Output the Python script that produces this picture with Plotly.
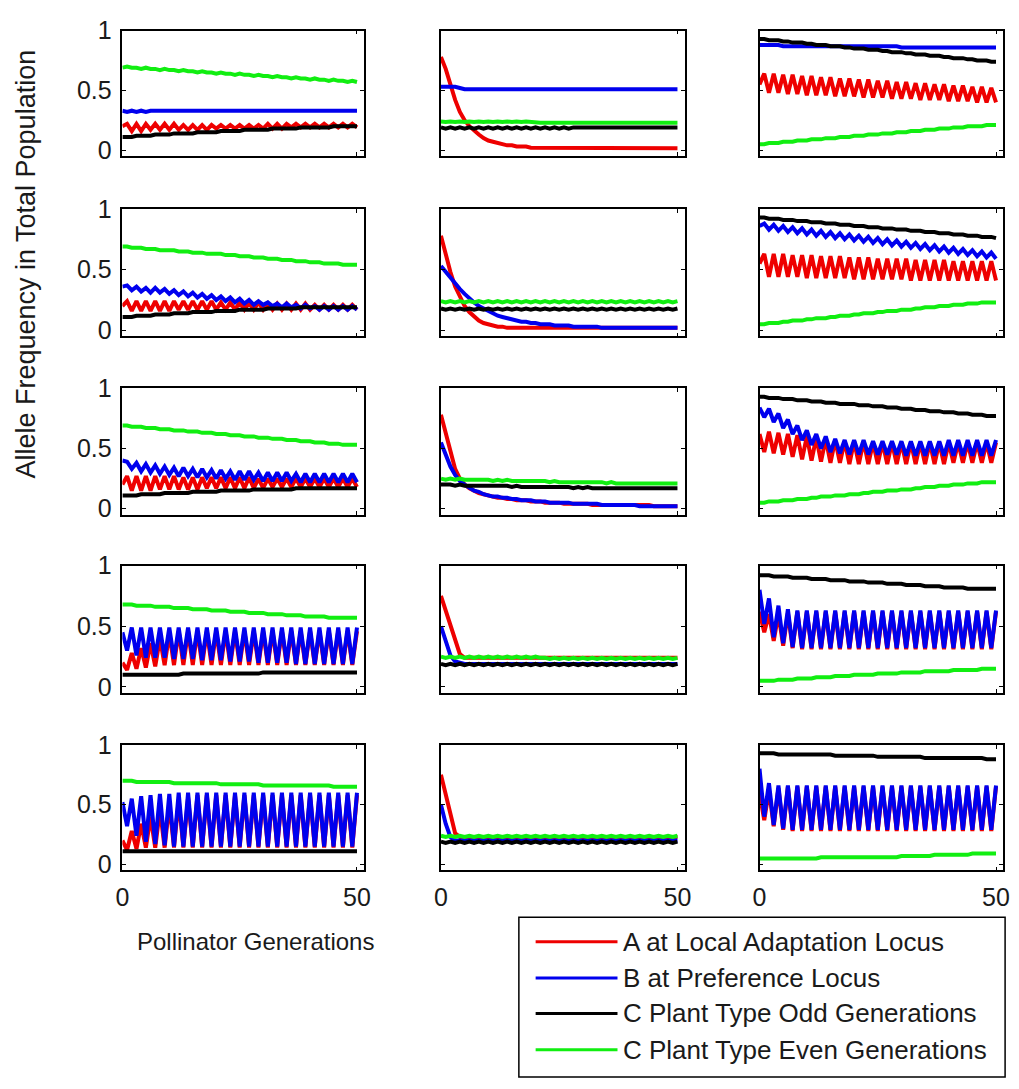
import plotly.graph_objects as go

# ---------------- data (allele frequencies per pollinator generation 0..50) ----------------
series_names = ["A at Local Adaptation Locus", "B at Preference Locus",
                "C Plant Type Odd Generations", "C Plant Type Even Generations"]
x_tick_vals = [0, 50]
x_tick_text = ["0", "50"]
y_tick_vals = [0, 0.5, 1]
y_tick_text = ["0", "0.5", "1"]

# ---- row 1 ----
r11 = [0.20,0.22,0.16,0.22,0.16,0.22,0.17,0.22,0.17,0.22,
       0.17,0.22,0.17,0.21,0.17,0.21,0.17,0.21,0.17,0.21,
       0.18,0.21,0.18,0.21,0.18,0.21,0.18,0.21,0.18,0.21,
       0.18,0.22,0.18,0.22,0.18,0.22,0.19,0.22,0.19,0.22,
       0.19,0.22,0.19,0.22,0.19,0.22,0.19,0.22,0.19,0.22,
       0.19]
b11 = [0.33,0.32,0.33,0.32,0.33,0.32,0.33,0.33,0.33,0.33,
       0.33,0.33,0.33,0.33,0.33,0.33,0.33,0.33,0.33,0.33,
       0.33,0.33,0.33,0.33,0.33,0.33,0.33,0.33,0.33,0.33,
       0.33,0.33,0.33,0.33,0.33,0.33,0.33,0.33,0.33,0.33,
       0.33,0.33,0.33,0.33,0.33,0.33,0.33,0.33,0.33,0.33,
       0.33]
k11 = [0.11,0.11,0.11,0.12,0.12,0.12,0.12,0.13,0.13,0.13,
       0.13,0.14,0.14,0.14,0.14,0.14,0.15,0.15,0.15,0.15,
       0.15,0.16,0.16,0.16,0.16,0.16,0.17,0.17,0.17,0.17,
       0.17,0.17,0.18,0.18,0.18,0.18,0.18,0.18,0.19,0.19,
       0.19,0.19,0.19,0.19,0.19,0.20,0.20,0.20,0.20,0.20,
       0.20]
g11 = [0.69,0.70,0.69,0.69,0.68,0.69,0.68,0.68,0.67,0.68,
       0.67,0.67,0.66,0.67,0.66,0.66,0.65,0.66,0.65,0.65,
       0.64,0.65,0.64,0.64,0.63,0.64,0.63,0.63,0.62,0.63,
       0.62,0.62,0.61,0.62,0.61,0.61,0.60,0.61,0.60,0.60,
       0.59,0.60,0.59,0.59,0.58,0.59,0.58,0.58,0.57,0.58,
       0.57]

r12 = [0.78,0.68,0.55,0.42,0.32,0.25,0.20,0.16,0.13,0.10,
       0.08,0.07,0.06,0.05,0.04,0.04,0.03,0.03,0.03,0.02,
       0.02,0.02,0.02,0.02,0.02,0.02,0.02,0.015,0.015,0.015,
       0.015,0.015,0.015,0.015,0.015,0.015,0.015,0.015,0.015,0.015,
       0.015,0.015,0.015,0.015,0.015,0.015,0.015,0.015,0.015,0.015,
       0.015]
b12 = [0.53,0.53,0.53,0.53,0.52,0.51,0.51,0.51,0.51,0.51,
       0.51,0.51,0.51,0.51,0.51,0.51,0.51,0.51,0.51,0.51,
       0.51,0.51,0.51,0.51,0.51,0.51,0.51,0.51,0.51,0.51,
       0.51,0.51,0.51,0.51,0.51,0.51,0.51,0.51,0.51,0.51,
       0.51,0.51,0.51,0.51,0.51,0.51,0.51,0.51,0.51,0.51,
       0.51]
k12 = [0.19,0.18,0.19,0.18,0.19,0.18,0.19,0.18,0.19,0.18,
       0.19,0.18,0.19,0.18,0.19,0.18,0.19,0.18,0.19,0.18,
       0.19,0.18,0.19,0.18,0.19,0.18,0.19,0.18,0.19,0.19,
       0.19,0.19,0.19,0.19,0.19,0.19,0.19,0.19,0.19,0.19,
       0.19,0.19,0.19,0.19,0.19,0.19,0.19,0.19,0.19,0.19,
       0.19]
g12 = [0.24,0.235,0.24,0.235,0.24,0.235,0.24,0.235,0.24,0.235,
       0.24,0.235,0.24,0.235,0.24,0.235,0.24,0.235,0.24,0.235,
       0.23,0.23,0.23,0.23,0.23,0.23,0.23,0.23,0.23,0.23,
       0.23,0.23,0.23,0.23,0.23,0.23,0.23,0.23,0.23,0.23,
       0.23,0.23,0.23,0.23,0.23,0.23,0.23,0.23,0.23,0.23,
       0.23]

r13 = [0.55,0.64,0.48,0.64,0.48,0.63,0.47,0.63,0.47,0.62,
       0.46,0.62,0.46,0.61,0.46,0.61,0.45,0.60,0.45,0.60,
       0.45,0.59,0.44,0.59,0.44,0.58,0.44,0.58,0.43,0.57,
       0.43,0.57,0.43,0.56,0.42,0.56,0.42,0.55,0.42,0.55,
       0.41,0.54,0.41,0.54,0.41,0.53,0.40,0.53,0.40,0.52,
       0.40]
b13 = [0.88,0.88,0.88,0.88,0.88,0.87,0.87,0.87,0.87,0.87,
       0.87,0.87,0.87,0.87,0.87,0.87,0.87,0.87,0.87,0.87,
       0.87,0.87,0.87,0.87,0.87,0.87,0.87,0.87,0.87,0.87,
       0.86,0.86,0.86,0.86,0.86,0.86,0.86,0.86,0.86,0.86,
       0.86,0.86,0.86,0.86,0.86,0.86,0.86,0.86,0.86,0.86,
       0.86]
k13 = [0.93,0.93,0.92,0.92,0.92,0.91,0.91,0.90,0.90,0.90,
       0.89,0.89,0.88,0.88,0.88,0.87,0.87,0.87,0.86,0.86,
       0.85,0.85,0.85,0.84,0.84,0.84,0.83,0.83,0.82,0.82,
       0.82,0.81,0.81,0.80,0.80,0.80,0.79,0.79,0.79,0.78,
       0.78,0.77,0.77,0.77,0.76,0.76,0.75,0.75,0.75,0.74,
       0.74]
g13 = [0.05,0.05,0.06,0.06,0.06,0.07,0.07,0.07,0.08,0.08,
       0.08,0.09,0.09,0.09,0.10,0.10,0.10,0.11,0.11,0.11,
       0.12,0.12,0.12,0.13,0.13,0.13,0.14,0.14,0.14,0.15,
       0.15,0.15,0.16,0.16,0.16,0.17,0.17,0.17,0.18,0.18,
       0.18,0.19,0.19,0.19,0.20,0.20,0.20,0.20,0.21,0.21,
       0.21]

# ---- row 2 ----
r21 = [0.20,0.24,0.16,0.24,0.16,0.24,0.16,0.24,0.16,0.24,
       0.16,0.24,0.17,0.24,0.17,0.24,0.17,0.24,0.17,0.24,
       0.17,0.23,0.17,0.23,0.17,0.23,0.17,0.23,0.17,0.23,
       0.17,0.22,0.17,0.22,0.17,0.22,0.17,0.22,0.17,0.22,
       0.17,0.21,0.17,0.21,0.17,0.21,0.17,0.21,0.17,0.21,
       0.17]
b21 = [0.36,0.37,0.33,0.36,0.32,0.35,0.31,0.35,0.31,0.34,
       0.30,0.33,0.29,0.32,0.28,0.31,0.27,0.30,0.26,0.29,
       0.25,0.28,0.24,0.27,0.23,0.26,0.22,0.25,0.21,0.24,
       0.21,0.23,0.20,0.22,0.19,0.22,0.19,0.21,0.18,0.21,
       0.18,0.20,0.17,0.20,0.17,0.20,0.17,0.20,0.17,0.20,
       0.17]
k21 = [0.11,0.11,0.11,0.12,0.12,0.12,0.12,0.13,0.13,0.13,
       0.13,0.14,0.14,0.14,0.14,0.15,0.15,0.15,0.15,0.15,
       0.16,0.16,0.16,0.16,0.16,0.17,0.17,0.17,0.17,0.17,
       0.17,0.18,0.18,0.18,0.18,0.18,0.18,0.18,0.19,0.19,
       0.19,0.19,0.19,0.19,0.19,0.19,0.19,0.19,0.19,0.19,
       0.19]
g21 = [0.69,0.69,0.68,0.68,0.68,0.67,0.67,0.67,0.66,0.66,
       0.66,0.66,0.65,0.65,0.65,0.64,0.64,0.64,0.63,0.63,
       0.63,0.63,0.62,0.62,0.62,0.61,0.61,0.61,0.60,0.60,
       0.60,0.59,0.59,0.59,0.58,0.58,0.58,0.57,0.57,0.57,
       0.56,0.56,0.56,0.55,0.55,0.55,0.55,0.54,0.54,0.54,
       0.54]

r22 = [0.78,0.62,0.48,0.36,0.27,0.20,0.15,0.11,0.08,0.06,
       0.05,0.04,0.03,0.03,0.02,0.02,0.02,0.02,0.02,0.02,
       0.02,0.02,0.02,0.02,0.02,0.02,0.02,0.02,0.02,0.02,
       0.02,0.02,0.02,0.02,0.02,0.02,0.02,0.02,0.02,0.02,
       0.02,0.02,0.02,0.02,0.02,0.02,0.02,0.02,0.02,0.02,
       0.02]
b22 = [0.53,0.48,0.43,0.38,0.34,0.30,0.26,0.23,0.20,0.18,
       0.16,0.14,0.12,0.11,0.10,0.09,0.08,0.07,0.07,0.06,
       0.06,0.05,0.05,0.05,0.04,0.04,0.04,0.04,0.03,0.03,
       0.03,0.03,0.03,0.03,0.02,0.02,0.02,0.02,0.02,0.02,
       0.02,0.02,0.02,0.02,0.02,0.02,0.02,0.02,0.02,0.02,
       0.02]
k22 = [0.18,0.17,0.18,0.17,0.18,0.17,0.18,0.17,0.18,0.17,
       0.18,0.17,0.18,0.17,0.18,0.17,0.18,0.17,0.18,0.17,
       0.18,0.17,0.18,0.17,0.18,0.17,0.18,0.17,0.18,0.17,
       0.18,0.17,0.18,0.17,0.18,0.17,0.18,0.17,0.18,0.17,
       0.18,0.17,0.18,0.17,0.18,0.17,0.18,0.17,0.18,0.17,
       0.18]
g22 = [0.24,0.23,0.24,0.23,0.24,0.23,0.24,0.23,0.24,0.23,
       0.24,0.23,0.24,0.23,0.24,0.23,0.24,0.23,0.24,0.23,
       0.24,0.23,0.24,0.23,0.24,0.23,0.24,0.23,0.24,0.23,
       0.24,0.23,0.24,0.23,0.24,0.23,0.24,0.23,0.24,0.23,
       0.24,0.23,0.24,0.23,0.24,0.23,0.24,0.23,0.24,0.23,
       0.24]

r23 = [0.55,0.63,0.44,0.63,0.44,0.63,0.44,0.62,0.44,0.62,
       0.43,0.62,0.43,0.61,0.43,0.61,0.43,0.61,0.43,0.60,
       0.42,0.60,0.42,0.60,0.42,0.59,0.42,0.59,0.42,0.59,
       0.42,0.59,0.41,0.58,0.41,0.58,0.41,0.58,0.41,0.58,
       0.41,0.57,0.41,0.57,0.41,0.57,0.41,0.57,0.41,0.57,
       0.41]
b23 = [0.86,0.88,0.83,0.87,0.82,0.86,0.81,0.85,0.80,0.84,
       0.79,0.83,0.78,0.82,0.77,0.81,0.76,0.80,0.75,0.79,
       0.74,0.78,0.73,0.77,0.72,0.76,0.71,0.75,0.70,0.74,
       0.69,0.73,0.68,0.72,0.67,0.71,0.66,0.70,0.65,0.69,
       0.64,0.68,0.63,0.67,0.62,0.66,0.61,0.65,0.60,0.64,
       0.59]
k23 = [0.93,0.93,0.92,0.92,0.92,0.91,0.91,0.91,0.90,0.90,
       0.90,0.89,0.89,0.89,0.88,0.88,0.88,0.87,0.87,0.87,
       0.86,0.86,0.86,0.85,0.85,0.85,0.84,0.84,0.84,0.83,
       0.83,0.83,0.82,0.82,0.82,0.81,0.81,0.81,0.80,0.80,
       0.80,0.79,0.79,0.79,0.78,0.78,0.78,0.77,0.77,0.77,
       0.76]
g23 = [0.05,0.05,0.06,0.06,0.06,0.07,0.07,0.08,0.08,0.08,
       0.09,0.09,0.10,0.10,0.10,0.11,0.11,0.12,0.12,0.12,
       0.13,0.13,0.14,0.14,0.14,0.15,0.15,0.16,0.16,0.16,
       0.17,0.17,0.17,0.18,0.18,0.19,0.19,0.19,0.20,0.20,
       0.20,0.21,0.21,0.21,0.22,0.22,0.22,0.23,0.23,0.23,
       0.23]

# ---- row 3 ----
r31 = [0.20,0.27,0.15,0.27,0.15,0.27,0.15,0.27,0.16,0.27,
       0.16,0.27,0.16,0.26,0.16,0.26,0.16,0.26,0.17,0.26,
       0.17,0.26,0.17,0.26,0.17,0.26,0.17,0.26,0.17,0.25,
       0.17,0.25,0.18,0.25,0.18,0.25,0.18,0.25,0.18,0.25,
       0.18,0.25,0.18,0.25,0.18,0.25,0.18,0.25,0.18,0.25,
       0.18]
b31 = [0.40,0.39,0.33,0.38,0.31,0.37,0.30,0.36,0.29,0.35,
       0.28,0.34,0.27,0.34,0.27,0.33,0.26,0.33,0.26,0.32,
       0.25,0.32,0.25,0.31,0.24,0.31,0.24,0.31,0.24,0.30,
       0.23,0.30,0.23,0.30,0.23,0.30,0.23,0.29,0.22,0.29,
       0.22,0.29,0.22,0.29,0.22,0.29,0.22,0.29,0.22,0.29,
       0.22]
k31 = [0.11,0.11,0.11,0.11,0.12,0.12,0.12,0.12,0.12,0.13,
       0.13,0.13,0.13,0.13,0.13,0.14,0.14,0.14,0.14,0.14,
       0.14,0.15,0.15,0.15,0.15,0.15,0.15,0.15,0.16,0.16,
       0.16,0.16,0.16,0.16,0.16,0.16,0.16,0.17,0.17,0.17,
       0.17,0.17,0.17,0.17,0.17,0.17,0.17,0.17,0.17,0.17,
       0.17]
g31 = [0.69,0.69,0.68,0.68,0.68,0.67,0.67,0.67,0.66,0.66,
       0.66,0.65,0.65,0.65,0.64,0.64,0.64,0.63,0.63,0.63,
       0.62,0.62,0.62,0.61,0.61,0.61,0.60,0.60,0.60,0.59,
       0.59,0.59,0.58,0.58,0.58,0.57,0.57,0.57,0.56,0.56,
       0.56,0.55,0.55,0.55,0.54,0.54,0.54,0.53,0.53,0.53,
       0.53]

r32 = [0.78,0.62,0.46,0.33,0.25,0.20,0.17,0.15,0.13,0.12,
       0.11,0.10,0.09,0.09,0.08,0.08,0.07,0.07,0.07,0.06,
       0.06,0.06,0.05,0.05,0.05,0.05,0.04,0.04,0.04,0.04,
       0.04,0.04,0.03,0.03,0.03,0.03,0.03,0.03,0.03,0.03,
       0.03,0.03,0.03,0.03,0.03,0.02,0.02,0.02,0.02,0.02,
       0.02]
b32 = [0.55,0.44,0.35,0.28,0.23,0.20,0.17,0.15,0.14,0.12,
       0.11,0.10,0.10,0.09,0.09,0.08,0.08,0.07,0.07,0.07,
       0.06,0.06,0.06,0.05,0.05,0.05,0.05,0.05,0.04,0.04,
       0.04,0.04,0.04,0.04,0.03,0.03,0.03,0.03,0.03,0.03,
       0.03,0.03,0.02,0.02,0.02,0.02,0.02,0.02,0.02,0.02,
       0.02]
k32 = [0.20,0.20,0.20,0.19,0.20,0.19,0.19,0.19,0.19,0.19,
       0.19,0.19,0.19,0.19,0.19,0.18,0.19,0.18,0.18,0.18,
       0.18,0.18,0.18,0.18,0.18,0.18,0.18,0.18,0.17,0.18,
       0.17,0.18,0.17,0.17,0.17,0.17,0.17,0.17,0.17,0.17,
       0.17,0.17,0.17,0.17,0.17,0.17,0.17,0.17,0.17,0.17,
       0.17]
g32 = [0.25,0.24,0.25,0.24,0.25,0.24,0.24,0.24,0.24,0.24,
       0.24,0.23,0.24,0.23,0.24,0.23,0.23,0.23,0.23,0.23,
       0.23,0.23,0.23,0.22,0.23,0.22,0.22,0.22,0.22,0.22,
       0.22,0.22,0.22,0.22,0.22,0.21,0.22,0.21,0.21,0.21,
       0.21,0.21,0.21,0.21,0.21,0.21,0.21,0.21,0.21,0.21,
       0.21]

r33 = [0.62,0.47,0.64,0.46,0.63,0.45,0.62,0.43,0.61,0.41,
       0.60,0.40,0.59,0.39,0.58,0.38,0.57,0.38,0.56,0.37,
       0.56,0.37,0.56,0.37,0.55,0.37,0.55,0.37,0.55,0.37,
       0.55,0.37,0.55,0.37,0.55,0.37,0.55,0.37,0.55,0.37,
       0.55,0.38,0.55,0.38,0.55,0.38,0.55,0.38,0.55,0.38,
       0.55]
b33 = [0.84,0.76,0.83,0.72,0.79,0.67,0.74,0.62,0.69,0.57,
       0.65,0.53,0.62,0.50,0.60,0.47,0.58,0.46,0.57,0.45,
       0.57,0.45,0.57,0.45,0.56,0.45,0.56,0.45,0.56,0.45,
       0.56,0.44,0.56,0.44,0.56,0.44,0.56,0.44,0.56,0.44,
       0.57,0.44,0.57,0.44,0.57,0.44,0.57,0.44,0.57,0.44,
       0.57]
k33 = [0.93,0.93,0.92,0.92,0.92,0.91,0.91,0.91,0.90,0.90,
       0.90,0.89,0.89,0.89,0.88,0.88,0.88,0.87,0.87,0.87,
       0.87,0.86,0.86,0.86,0.85,0.85,0.85,0.84,0.84,0.84,
       0.83,0.83,0.83,0.82,0.82,0.82,0.81,0.81,0.81,0.80,
       0.80,0.80,0.79,0.79,0.79,0.78,0.78,0.78,0.77,0.77,
       0.77]
g33 = [0.05,0.05,0.06,0.06,0.06,0.07,0.07,0.07,0.08,0.08,
       0.08,0.09,0.09,0.10,0.10,0.10,0.11,0.11,0.11,0.12,
       0.12,0.12,0.13,0.13,0.14,0.14,0.14,0.15,0.15,0.15,
       0.16,0.16,0.16,0.17,0.17,0.18,0.18,0.18,0.19,0.19,
       0.19,0.20,0.20,0.20,0.21,0.21,0.21,0.22,0.22,0.22,
       0.22]

# ---- row 4 ----
r41 = [0.20,0.14,0.28,0.15,0.32,0.16,0.36,0.17,0.40,0.18,
       0.44,0.18,0.46,0.18,0.46,0.18,0.46,0.18,0.46,0.18,
       0.46,0.18,0.46,0.18,0.46,0.18,0.46,0.18,0.46,0.18,
       0.46,0.18,0.46,0.18,0.46,0.18,0.46,0.18,0.46,0.18,
       0.46,0.18,0.46,0.18,0.46,0.18,0.46,0.18,0.46,0.18,
       0.46]
b41 = [0.45,0.30,0.49,0.26,0.49,0.24,0.49,0.24,0.49,0.24,
       0.49,0.23,0.49,0.23,0.49,0.23,0.49,0.22,0.49,0.22,
       0.49,0.22,0.49,0.21,0.49,0.21,0.49,0.21,0.49,0.20,
       0.49,0.20,0.49,0.20,0.49,0.20,0.49,0.19,0.49,0.19,
       0.49,0.19,0.49,0.19,0.49,0.19,0.49,0.19,0.49,0.19,
       0.49]
k41 = [0.10,0.10,0.10,0.10,0.10,0.10,0.10,0.10,0.10,0.10,
       0.10,0.10,0.10,0.11,0.11,0.11,0.11,0.11,0.11,0.11,
       0.11,0.11,0.11,0.11,0.11,0.11,0.11,0.11,0.11,0.11,
       0.12,0.12,0.12,0.12,0.12,0.12,0.12,0.12,0.12,0.12,
       0.12,0.12,0.12,0.12,0.12,0.12,0.12,0.12,0.12,0.12,
       0.12]
g41 = [0.68,0.68,0.68,0.67,0.67,0.67,0.67,0.66,0.66,0.66,
       0.66,0.65,0.65,0.65,0.65,0.64,0.64,0.64,0.64,0.63,
       0.63,0.63,0.63,0.62,0.62,0.62,0.62,0.61,0.61,0.61,
       0.61,0.60,0.60,0.60,0.60,0.59,0.59,0.59,0.59,0.58,
       0.58,0.58,0.58,0.58,0.57,0.57,0.57,0.57,0.57,0.57,
       0.57]

r42 = [0.75,0.63,0.51,0.39,0.27,0.24,0.24,0.24,0.24,0.24,
       0.24,0.24,0.24,0.24,0.24,0.24,0.24,0.24,0.24,0.24,
       0.24,0.24,0.24,0.24,0.24,0.24,0.24,0.24,0.24,0.24,
       0.24,0.24,0.24,0.24,0.24,0.24,0.24,0.24,0.24,0.24,
       0.24,0.24,0.24,0.24,0.24,0.24,0.24,0.24,0.24,0.24,
       0.24]
b42 = [0.50,0.38,0.26,0.21,0.20,0.19,0.19,0.19,0.19,0.19,
       0.19,0.19,0.19,0.19,0.19,0.19,0.19,0.19,0.19,0.19,
       0.19,0.19,0.19,0.19,0.19,0.19,0.19,0.19,0.19,0.19,
       0.19,0.19,0.19,0.19,0.19,0.19,0.19,0.19,0.19,0.19,
       0.19,0.19,0.19,0.19,0.19,0.19,0.19,0.19,0.19,0.19,
       0.19]
k42 = [0.19,0.18,0.19,0.18,0.19,0.18,0.19,0.18,0.19,0.18,
       0.19,0.18,0.19,0.18,0.19,0.18,0.19,0.18,0.19,0.18,
       0.19,0.18,0.19,0.18,0.19,0.18,0.19,0.18,0.19,0.18,
       0.19,0.18,0.19,0.18,0.19,0.18,0.19,0.18,0.19,0.18,
       0.19,0.18,0.19,0.18,0.19,0.18,0.19,0.18,0.19,0.18,
       0.19]
g42 = [0.25,0.24,0.25,0.24,0.25,0.24,0.25,0.24,0.25,0.24,
       0.25,0.24,0.25,0.24,0.25,0.24,0.25,0.24,0.25,0.24,
       0.25,0.24,0.24,0.23,0.24,0.23,0.24,0.23,0.24,0.23,
       0.24,0.23,0.24,0.23,0.24,0.23,0.24,0.23,0.24,0.23,
       0.24,0.23,0.24,0.23,0.24,0.23,0.24,0.23,0.24,0.23,
       0.24]

r43 = [0.62,0.45,0.60,0.38,0.60,0.34,0.61,0.32,0.62,0.31,
       0.62,0.31,0.62,0.31,0.62,0.31,0.62,0.31,0.62,0.31,
       0.62,0.31,0.62,0.31,0.62,0.31,0.62,0.31,0.62,0.31,
       0.62,0.31,0.62,0.31,0.62,0.31,0.62,0.31,0.62,0.31,
       0.62,0.31,0.62,0.31,0.62,0.31,0.62,0.31,0.62,0.31,
       0.62]
b43 = [0.80,0.52,0.73,0.41,0.67,0.36,0.64,0.33,0.63,0.32,
       0.63,0.32,0.63,0.32,0.63,0.32,0.63,0.32,0.63,0.32,
       0.63,0.32,0.63,0.32,0.63,0.32,0.63,0.32,0.63,0.32,
       0.63,0.32,0.63,0.32,0.63,0.32,0.63,0.32,0.63,0.32,
       0.63,0.32,0.63,0.32,0.63,0.32,0.63,0.32,0.63,0.32,
       0.63]
k43 = [0.92,0.92,0.92,0.91,0.91,0.91,0.91,0.90,0.90,0.90,
       0.90,0.89,0.89,0.89,0.89,0.88,0.88,0.88,0.88,0.87,
       0.87,0.87,0.87,0.86,0.86,0.86,0.86,0.85,0.85,0.85,
       0.85,0.84,0.84,0.84,0.84,0.83,0.83,0.83,0.83,0.82,
       0.82,0.82,0.82,0.82,0.81,0.81,0.81,0.81,0.81,0.81,
       0.81]
g43 = [0.05,0.05,0.05,0.05,0.06,0.06,0.06,0.06,0.07,0.07,
       0.07,0.07,0.08,0.08,0.08,0.08,0.09,0.09,0.09,0.09,
       0.10,0.10,0.10,0.10,0.10,0.11,0.11,0.11,0.11,0.11,
       0.12,0.12,0.12,0.12,0.12,0.13,0.13,0.13,0.13,0.13,
       0.13,0.14,0.14,0.14,0.14,0.14,0.14,0.15,0.15,0.15,
       0.15]

# ---- row 5 ----
r51 = [0.20,0.12,0.28,0.13,0.34,0.14,0.40,0.14,0.46,0.14,
       0.50,0.14,0.54,0.14,0.56,0.14,0.58,0.14,0.58,0.14,
       0.58,0.14,0.58,0.14,0.58,0.14,0.58,0.14,0.58,0.14,
       0.58,0.14,0.58,0.14,0.58,0.14,0.58,0.14,0.58,0.14,
       0.58,0.14,0.58,0.14,0.58,0.14,0.58,0.14,0.58,0.14,
       0.58]
b51 = [0.52,0.32,0.55,0.24,0.57,0.19,0.58,0.17,0.59,0.16,
       0.59,0.15,0.60,0.15,0.60,0.15,0.60,0.15,0.60,0.15,
       0.60,0.15,0.60,0.15,0.60,0.15,0.60,0.15,0.60,0.15,
       0.60,0.15,0.60,0.15,0.60,0.15,0.60,0.15,0.60,0.15,
       0.60,0.15,0.60,0.15,0.60,0.15,0.60,0.15,0.60,0.15,
       0.60]
k51 = [0.11,0.11,0.11,0.11,0.11,0.11,0.11,0.11,0.11,0.11,
       0.11,0.11,0.11,0.11,0.11,0.11,0.11,0.11,0.11,0.11,
       0.11,0.11,0.11,0.11,0.11,0.11,0.11,0.11,0.11,0.11,
       0.11,0.11,0.11,0.11,0.11,0.11,0.11,0.11,0.11,0.11,
       0.11,0.11,0.11,0.11,0.11,0.11,0.11,0.11,0.11,0.11,
       0.11]
g51 = [0.70,0.70,0.70,0.69,0.69,0.69,0.69,0.69,0.69,0.69,
       0.69,0.68,0.68,0.68,0.68,0.68,0.68,0.68,0.68,0.68,
       0.68,0.67,0.67,0.67,0.67,0.67,0.67,0.67,0.67,0.67,
       0.66,0.66,0.66,0.66,0.66,0.66,0.66,0.66,0.66,0.66,
       0.66,0.66,0.66,0.66,0.66,0.65,0.65,0.65,0.65,0.65,
       0.65]

r52 = [0.75,0.58,0.42,0.26,0.23,0.23,0.23,0.23,0.23,0.23,
       0.23,0.23,0.23,0.23,0.23,0.23,0.23,0.23,0.23,0.23,
       0.23,0.23,0.23,0.23,0.23,0.23,0.23,0.23,0.23,0.23,
       0.23,0.23,0.23,0.23,0.23,0.23,0.23,0.23,0.23,0.23,
       0.23,0.23,0.23,0.23,0.23,0.23,0.23,0.23,0.23,0.23,
       0.23]
b52 = [0.50,0.34,0.23,0.20,0.20,0.20,0.20,0.20,0.20,0.20,
       0.20,0.20,0.20,0.20,0.20,0.20,0.20,0.20,0.20,0.20,
       0.20,0.20,0.20,0.20,0.20,0.20,0.20,0.20,0.20,0.20,
       0.20,0.20,0.20,0.20,0.20,0.20,0.20,0.20,0.20,0.20,
       0.20,0.20,0.20,0.20,0.20,0.20,0.20,0.20,0.20,0.20,
       0.20]
k52 = [0.19,0.18,0.19,0.18,0.19,0.18,0.19,0.18,0.19,0.18,
       0.19,0.18,0.19,0.18,0.19,0.18,0.19,0.18,0.19,0.18,
       0.19,0.18,0.19,0.18,0.19,0.18,0.19,0.18,0.19,0.18,
       0.19,0.18,0.19,0.18,0.19,0.18,0.19,0.18,0.19,0.18,
       0.19,0.18,0.19,0.18,0.19,0.18,0.19,0.18,0.19,0.18,
       0.19]
g52 = [0.24,0.23,0.24,0.23,0.24,0.23,0.24,0.23,0.24,0.23,
       0.24,0.23,0.24,0.23,0.24,0.23,0.24,0.23,0.24,0.23,
       0.24,0.23,0.24,0.23,0.24,0.23,0.24,0.23,0.24,0.23,
       0.24,0.23,0.24,0.23,0.24,0.23,0.24,0.23,0.24,0.23,
       0.24,0.23,0.24,0.23,0.24,0.23,0.24,0.23,0.24,0.23,
       0.24]

r53 = [0.60,0.37,0.62,0.32,0.64,0.29,0.65,0.28,0.65,0.28,
       0.65,0.28,0.65,0.28,0.65,0.28,0.65,0.28,0.65,0.28,
       0.65,0.28,0.65,0.28,0.65,0.28,0.65,0.28,0.65,0.28,
       0.65,0.28,0.65,0.28,0.65,0.28,0.65,0.28,0.65,0.28,
       0.65,0.28,0.65,0.28,0.65,0.28,0.65,0.28,0.65,0.28,
       0.65]
b53 = [0.80,0.40,0.68,0.33,0.66,0.30,0.66,0.29,0.66,0.29,
       0.66,0.29,0.66,0.29,0.66,0.29,0.66,0.29,0.66,0.29,
       0.66,0.29,0.66,0.29,0.66,0.29,0.66,0.29,0.66,0.29,
       0.66,0.29,0.66,0.29,0.66,0.29,0.66,0.29,0.66,0.29,
       0.66,0.29,0.66,0.29,0.66,0.29,0.66,0.29,0.66,0.29,
       0.66]
k53 = [0.93,0.93,0.93,0.93,0.92,0.92,0.92,0.92,0.92,0.92,
       0.92,0.92,0.92,0.92,0.92,0.92,0.91,0.91,0.91,0.91,
       0.91,0.91,0.91,0.91,0.91,0.90,0.90,0.90,0.90,0.90,
       0.90,0.90,0.90,0.90,0.90,0.89,0.89,0.89,0.89,0.89,
       0.89,0.89,0.89,0.89,0.89,0.89,0.89,0.89,0.88,0.88,
       0.88]
g53 = [0.05,0.05,0.05,0.05,0.05,0.05,0.05,0.05,0.05,0.05,
       0.05,0.05,0.05,0.06,0.06,0.06,0.06,0.06,0.06,0.06,
       0.06,0.06,0.06,0.06,0.06,0.06,0.06,0.06,0.06,0.06,
       0.07,0.07,0.07,0.07,0.07,0.07,0.07,0.08,0.08,0.08,
       0.08,0.08,0.08,0.08,0.08,0.09,0.09,0.09,0.09,0.09,
       0.09]

panels = [
    [(r11, b11, k11, g11), (r12, b12, k12, g12), (r13, b13, k13, g13)],
    [(r21, b21, k21, g21), (r22, b22, k22, g22), (r23, b23, k23, g23)],
    [(r31, b31, k31, g31), (r32, b32, k32, g32), (r33, b33, k33, g33)],
    [(r41, b41, k41, g41), (r42, b42, k42, g42), (r43, b43, k43, g43)],
    [(r51, b51, k51, g51), (r52, b52, k52, g52), (r53, b53, k53, g53)],
]

# ---------------- styling ----------------
W, H = 1019, 1089
colors = ["#ee0000", "#0000ee", "#000000", "#11ee11"]
FONT = "Liberation Sans, Arial, sans-serif"
TXT = "#1a1a1a"
col_px = [(117, 362), (440, 687), (763, 1010)]
row_px = [(17, 145), (199, 329), (382, 511), (563, 693), (746, 874)]

fig = go.Figure()
layout_axes = {}
for i, row in enumerate(panels):
    for j, series in enumerate(row):
        n = i * 3 + j + 1
        xs = "" if n == 1 else str(n)
        for s, name, c in zip(series, series_names, colors):
            fig.add_trace(go.Scatter(
                x=list(range(len(s))), y=s, mode="lines", name=name,
                line=dict(color=c, width=4, shape="linear"),
                xaxis="x" + xs, yaxis="y" + xs, showlegend=False, hoverinfo="skip"))
        x0, x1 = col_px[j]
        y0, y1 = row_px[i]
        common = dict(showline=True, linecolor="black", linewidth=1.5, mirror="ticks",
                      ticks="inside", ticklen=4, tickwidth=1, tickcolor="black",
                      showgrid=False, zeroline=False, fixedrange=True,
                      tickfont=dict(family=FONT, size=25, color=TXT))
        layout_axes["xaxis" + xs] = dict(
            domain=[x0 / W, x1 / W], anchor="y" + xs, range=[0, 51.5],
            tickvals=x_tick_vals, ticktext=x_tick_text, showticklabels=(i == 4),
            ticklabelstandoff=4, **common)
        layout_axes["yaxis" + xs] = dict(
            domain=[1 - y1 / H, 1 - y0 / H], anchor="x" + xs, range=[-0.05, 1.0],
            tickvals=y_tick_vals, ticktext=y_tick_text, showticklabels=(j == 0),
            ticklabelstandoff=4, **common)

fig.update_layout(**layout_axes)

# ---------------- legend (drawn as box, sample lines and text) ----------------
shapes = [dict(type="rect", xref="paper", yref="paper",
               x0=519 / W, x1=1012 / W, y0=1 - 1085 / H, y1=1 - 922 / H,
               line=dict(color="black", width=1.5), fillcolor="white")]
annotations = []
leg_rows = [947, 984, 1020, 1057]
for name, c, yp in zip(series_names, colors, leg_rows):
    shapes.append(dict(type="line", xref="paper", yref="paper",
                       x0=536 / W, x1=619 / W, y0=1 - yp / H, y1=1 - yp / H,
                       line=dict(color=c, width=3)))
    annotations.append(dict(text=name, xref="paper", yref="paper",
                            x=623 / W, y=1 - yp / H, xanchor="left", yanchor="middle",
                            showarrow=False, font=dict(family=FONT, size=26, color=TXT)))

annotations.append(dict(text="Allele Frequency in Total Population", xref="paper", yref="paper",
                        x=19 / W, y=1 - 255 / H, xanchor="center", yanchor="middle",
                        textangle=-90, showarrow=False,
                        font=dict(family=FONT, size=27, color=TXT)))
annotations.append(dict(text="Pollinator Generations", xref="paper", yref="paper",
                        x=252 / W, y=1 - 947 / H, xanchor="center", yanchor="middle",
                        showarrow=False, font=dict(family=FONT, size=24, color=TXT)))

fig.update_layout(width=W, height=H, autosize=False,
                  margin=dict(l=0, r=0, t=0, b=0),
                  paper_bgcolor="white", plot_bgcolor="white",
                  shapes=shapes, annotations=annotations, showlegend=False)

fig.write_html("out.html")
